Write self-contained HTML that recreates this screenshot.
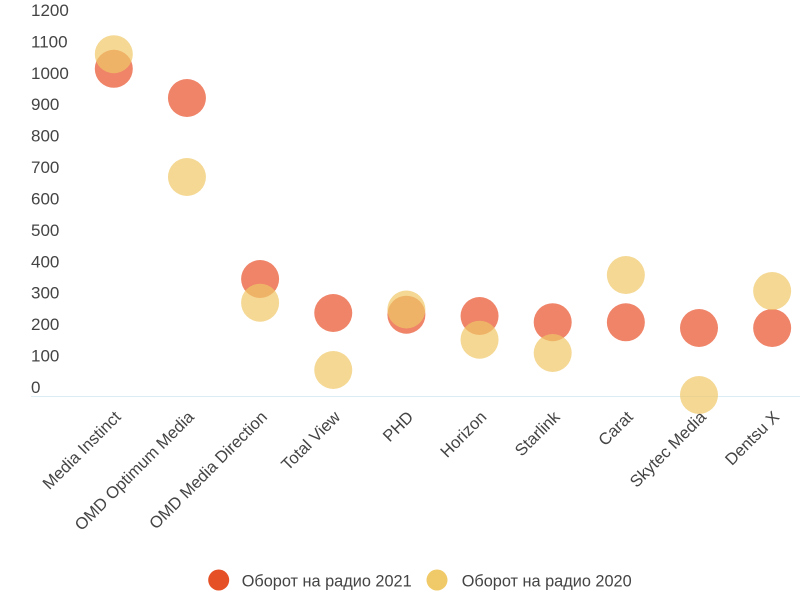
<!DOCTYPE html>
<html>
<head>
<meta charset="utf-8">
<style>
  html, body { margin:0; padding:0; background:#ffffff; }
  svg { display:block; }
  text { font-family: "Liberation Sans", "Noto Sans CJK SC", sans-serif; fill:#444444; }
</style>
</head>
<body>
<svg width="800" height="604" viewBox="0 0 800 604" xmlns="http://www.w3.org/2000/svg">
  <rect x="0" y="0" width="800" height="604" fill="#ffffff"/>

  <!-- Y axis labels -->
  <g font-size="17">
    <text x="31" y="16">1200</text>
    <text x="31" y="47.5">1100</text>
    <text x="31" y="78.8">1000</text>
    <text x="31" y="110.2">900</text>
    <text x="31" y="141.7">800</text>
    <text x="31" y="173.1">700</text>
    <text x="31" y="204.5">600</text>
    <text x="31" y="235.9">500</text>
    <text x="31" y="267.3">400</text>
    <text x="31" y="298.7">300</text>
    <text x="31" y="330.2">200</text>
    <text x="31" y="361.6">100</text>
    <text x="31" y="393">0</text>
  </g>

  <!-- X axis line -->
  <line x1="31" y1="396.5" x2="800" y2="396.5" stroke="#dcecf5" stroke-width="1"/>

  <!-- Series 2021 (red) -->
  <g fill="#e8502a" fill-opacity="0.7">
    <circle cx="113.8" cy="68.8" r="19"/>
    <circle cx="186.95" cy="98" r="19"/>
    <circle cx="260.1" cy="279" r="19"/>
    <circle cx="333.25" cy="313" r="19"/>
    <circle cx="406.4" cy="314.7" r="19"/>
    <circle cx="479.55" cy="316" r="19"/>
    <circle cx="552.7" cy="322.2" r="19"/>
    <circle cx="625.85" cy="322.3" r="19"/>
    <circle cx="699" cy="328" r="19"/>
    <circle cx="772.15" cy="328" r="19"/>
  </g>

  <!-- Series 2020 (yellow) -->
  <g fill="#f0c866" fill-opacity="0.7">
    <circle cx="113.8" cy="54.2" r="19"/>
    <circle cx="186.95" cy="177" r="19"/>
    <circle cx="260.1" cy="302.7" r="19"/>
    <circle cx="333.25" cy="370" r="19"/>
    <circle cx="406.4" cy="309.5" r="19"/>
    <circle cx="479.55" cy="339.7" r="19"/>
    <circle cx="552.7" cy="353" r="19"/>
    <circle cx="625.85" cy="275" r="19"/>
    <circle cx="699" cy="395" r="19"/>
    <circle cx="772.15" cy="291" r="19"/>
  </g>

  <!-- X axis labels -->
  <g font-size="16.6" text-anchor="end">
    <text transform="translate(121.8,418) rotate(-45)">Media Instinct</text>
    <text transform="translate(194.95,418) rotate(-45)">OMD Optimum Media</text>
    <text transform="translate(268.1,418) rotate(-45)">OMD Media Direction</text>
    <text transform="translate(341.25,418) rotate(-45)">Total View</text>
    <text transform="translate(414.4,418) rotate(-45)">PHD</text>
    <text transform="translate(487.55,418) rotate(-45)">Horizon</text>
    <text transform="translate(560.7,418) rotate(-45)">Starlink</text>
    <text transform="translate(633.85,418) rotate(-45)">Carat</text>
    <text transform="translate(707,418) rotate(-45)">Skytec Media</text>
    <text transform="translate(780.15,418) rotate(-45)">Dentsu X</text>
  </g>

  <!-- Legend -->
  <circle cx="218.7" cy="580" r="10.5" fill="#e65026"/>
  <text x="241.7" y="586.5" font-size="16.5" textLength="170" lengthAdjust="spacingAndGlyphs">Оборот на радио 2021</text>
  <circle cx="437" cy="580" r="10.5" fill="#f0ca68"/>
  <text x="461.7" y="586.5" font-size="16.5" textLength="170" lengthAdjust="spacingAndGlyphs">Оборот на радио 2020</text>
</svg>
</body>
</html>
